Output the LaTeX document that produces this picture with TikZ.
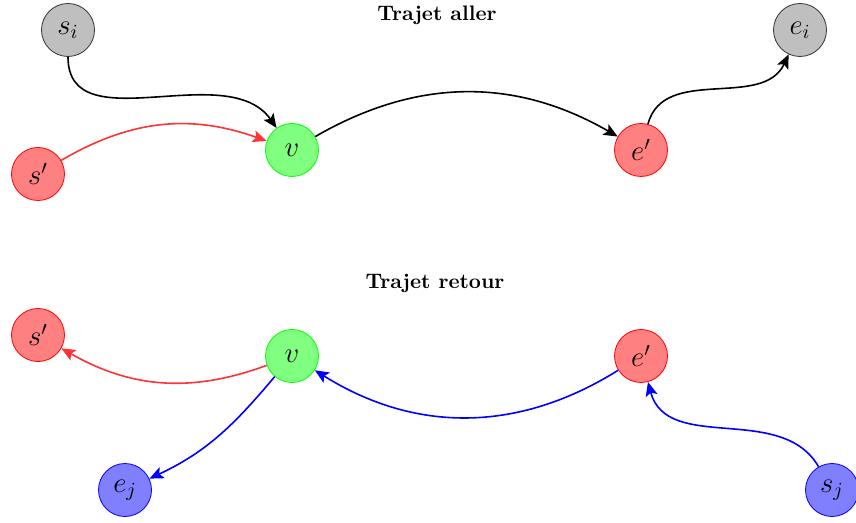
\documentclass[tikz,border=0pt]{standalone}
\usetikzlibrary{arrows.meta, positioning}

\begin{document}
\begin{tikzpicture}[x=0.5pt, y=-0.5pt,
		pt/.style={circle, draw, minimum size=26.5pt, inner sep=0pt, font=\Large},
		ext/.style={pt, draw=black!80, fill=black!25},
		mid/.style={pt, draw=red, fill=red!50},
		via/.style={pt, draw=green, fill=green!50},
		ret/.style={pt, draw=blue, fill=blue!50},
		titre/.style={font=\bfseries\fontsize{10.5}{12}\selectfont}]
		\useasboundingbox (0,0) rectangle (856,523);

		% trajet aller
		\node (ta) [titre] at (437,15) {Trajet aller};
		\node (si) [ext] at (68,30) {$s_i$};
		\node (sp1) [mid] at (38,174) {$s'$};
		\node (v1) [via] at (292,150) {$v$};
		\node (ep1) [mid] at (641,150) {$e'$};
		\node (ei) [ext] at (800,30) {$e_i$};

		% trajet retour
		\node (tr) [titre] at (435,283) {Trajet retour};
		\node (sp2) [mid] at (38,335) {$s'$};
		\node (v2) [via] at (292,356) {$v$};
		\node (ep2) [mid] at (641,356) {$e'$};
		\node (ej) [ret] at (125,490) {$e_j$};
		\node (sj) [ret] at (832,490) {$s_j$};

		\path [-{Stealth[length=7pt, width=6pt, inset=1.5pt]}, thick]
		(si) edge [out=-90, in=125] (v1)
		(sp1) edge [red!80, bend left=25] (v1)
		(v1) edge [bend left=30] (ep1)
		(ep1) edge [out=75, in=-115] (ei)
		(v2) edge [red!80, bend left=25] (sp2)
		(v2) edge [blue, out=-130, in=25] (ej)
		(ep2) edge [blue, bend left=32] (v2)
		(sj) edge [blue, out=120, in=-75] (ep2)
		;
	\end{tikzpicture}
\end{document}
